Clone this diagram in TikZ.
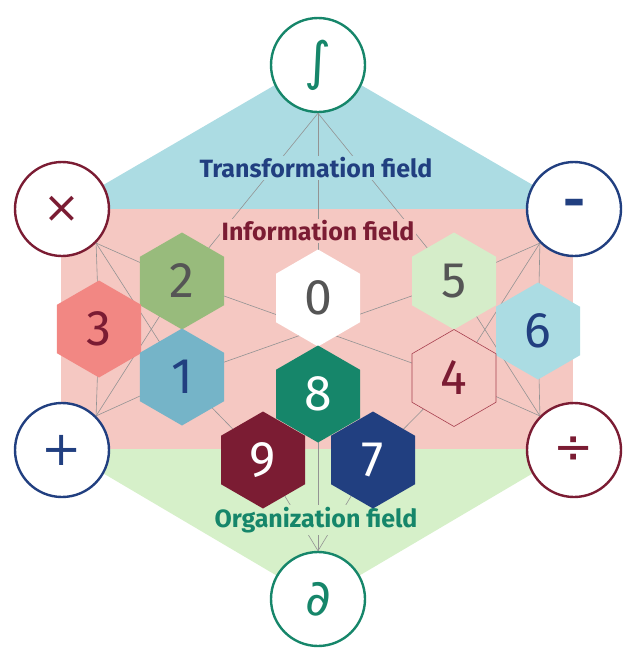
\documentclass[tikz,border=0pt]{standalone}
\usepackage{fontspec}
\setmainfont{Fira Sans}
\newfontfamily\symf{DejaVu Sans}
\usetikzlibrary{shapes.geometric}
\definecolor{cblue}{HTML}{ACDCE3}
\definecolor{cpink}{HTML}{F5C8C2}
\definecolor{cgreen}{HTML}{D6F0C9}
\definecolor{dgreen}{HTML}{16866A}
\definecolor{dred}{HTML}{7B1C33}
\definecolor{navy}{HTML}{213F80}
\definecolor{dgray}{HTML}{555555}
\definecolor{salmon}{HTML}{F28783}
\definecolor{mgreen}{HTML}{98BB7C}
\definecolor{lgreen}{HTML}{D5EDC9}
\definecolor{lblue}{HTML}{ABDCE3}
\definecolor{mblue}{HTML}{75B4C8}
\definecolor{hexred}{HTML}{A8404F}
\begin{document}
\begin{tikzpicture}[x=1pt,y=-1pt,
  hexa/.style={regular polygon,regular polygon sides=6,shape border rotate=30,minimum size=97pt,inner sep=0pt,font=\fontsize{50}{50}\selectfont},
  opc/.style={circle,draw,fill=white,line width=2.4pt,minimum size=94pt,inner sep=0pt},
  lnk/.style={draw=gray!85,line width=0.6pt},
  fld/.style={font=\bfseries\fontsize{25}{25}\selectfont,inner sep=2pt}]
\path[use as bounding box] (0,0) rectangle (634,656);
% regions
\fill[cblue] (318,60) -- (62,209) -- (574,209) -- cycle;
\fill[cpink] (61,209) rectangle (573,449);
\fill[cgreen] (62,449) -- (574,449) -- (318,600) -- cycle;
% node positions
\coordinate (p0) at (318,298);
\coordinate (p2) at (182,281);
\coordinate (p5) at (454,281);
\coordinate (p3) at (99,329);
\coordinate (p6) at (538,331);
\coordinate (p1) at (182,377);
\coordinate (p4) at (454,378);
\coordinate (p8) at (318,394);
\coordinate (p9) at (263,460);
\coordinate (p7) at (373,460);
% operator circles
\node[opc,draw=dgreen] (int) at (318,65) {};
\node[opc,draw=dred] (mul) at (62,209) {};
\node[opc,draw=navy] (sub) at (574,209) {};
\node[opc,draw=navy] (add) at (62,450) {};
\node[opc,draw=dred] (dvd) at (574,450) {};
\node[opc,draw=dgreen] (par) at (318,599) {};
% links
\foreach \t in {p2,p0,p5} \draw[lnk] (int.south) -- (\t);
\foreach \t in {p3,p2,p1} \draw[lnk] (mul.south east) -- (\t);
\foreach \t in {p3,p2,p1} \draw[lnk] (add.north east) -- (\t);
\foreach \t in {p6,p5,p4} \draw[lnk] (sub.south west) -- (\t);
\foreach \t in {p6,p5,p4} \draw[lnk] (dvd.north west) -- (\t);
\foreach \t in {p9,p8,p7} \draw[lnk] (par.north) -- (\t);
\draw[lnk] (p2) -- (p4);
\draw[lnk] (p5) -- (p1);
\draw[lnk] (p1) -- (p9);
\draw[lnk] (p4) -- (p7);
% field labels
\node[fld,fill=cblue,text=navy] (tf) at (316,168) {Transformation field};
\node[fld,fill=cpink,text=dred] (inf) at (318,231) {Information field};
\node[fld,fill=cgreen,text=dgreen] (of) at (316,520) {Organization field};
% hexagons
\node[hexa,fill=white,text=dgray] (h0) at (p0) {0};
\node[hexa,fill=mgreen,text=dgray] (h2) at (p2) {2};
\node[hexa,fill=lgreen,text=dgray] (h5) at (p5) {5};
\node[hexa,fill=salmon,text=dred] (h3) at (p3) {3};
\node[hexa,fill=lblue,text=navy] (h6) at (p6) {6};
\node[hexa,fill=mblue,text=navy] (h1) at (p1) {1};
\node[hexa,fill=cpink,draw=hexred,line width=0.6pt,text=dred] (h4) at (p4) {4};
\node[hexa,fill=dred,text=white] (h9) at (p9) {9};
\node[hexa,fill=navy,text=white] (h7) at (p7) {7};
\node[hexa,fill=dgreen,text=white] (h8) at (p8) {8};
% operator symbols
\node[text=dgreen,font=\symf\fontsize{52}{52}\selectfont] at (int) {∫};
\node[text=dred,font=\symf\fontsize{44}{44}\selectfont] at (mul) {×};
\node[text=navy,font=\bfseries\fontsize{54}{54}\selectfont] at (sub) {-};
\node[text=navy,font=\symf\fontsize{48}{48}\selectfont] at (add) {+};
\node[text=dred,font=\symf\fontsize{48}{48}\selectfont] at (dvd) {÷};
\node[text=dgreen,font=\symf\fontsize{50}{50}\selectfont] at (par) {∂};
\end{tikzpicture}
\end{document}
